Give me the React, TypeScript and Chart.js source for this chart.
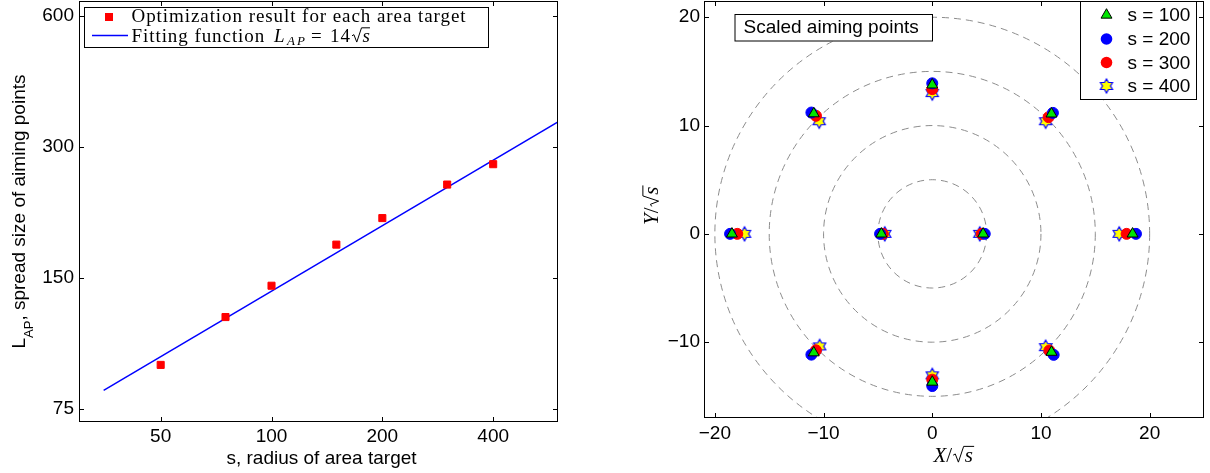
import React, { useEffect, useRef } from 'react';
import { Chart, registerables } from 'chart.js';

Chart.register(...registerables);

const SANS = "'Liberation Sans', Arial, Helvetica, sans-serif";
const SERIF = "'Liberation Serif', 'Times New Roman', Times, serif";

// ---- Left panel data ----
const areaRadius = [50, 75, 100, 150, 200, 300, 400];
const spreadSize = [94.7, 122, 144, 179, 206, 246, 274];
const fitRadius = [35, 600];
const fitSpread = [82.8, 342.9];
const leftXTicks = [50, 100, 200, 400];
const leftYTicks = [75, 150, 300, 600];

// ---- Right panel data ----
const s100X = [-18.43, -4.68, 4.68, 18.43, 0, 0, -10.9, 10.97, -10.9, 10.97];
const s100Y = [0, 0, 0, 0, 13.76, -13.68, 11.1, 11.08, -10.97, -10.92];
const s200X = [-18.6, -4.8, 4.83, 18.74, 0, 0, -11.12, 11.1, -11.12, 11.17];
const s200Y = [0, 0, 0, 0, 13.9, -14.05, 11.2, 11.17, -11.15, -11.17];
const s300X = [-17.94, -4.55, 4.55, 17.88, 0, 0, -10.7, 10.7, -10.7, 10.77];
const s300Y = [0, 0, 0, 0, 13.36, -13.46, 10.9, 10.77, -10.75, -10.77];
const s400X = [-17.27, -4.37, 4.37, 17.2, 0, 0, -10.4, 10.43, -10.36, 10.43];
const s400Y = [0, 0, 0, 0, 13.0, -13.06, 10.4, 10.4, -10.39, -10.46];
const guideRadii = [5, 10, 15, 20];
const rightXTicks = [-20, -10, 0, 10, 20];
const rightYTicks = [-10, 0, 10, 20];
const seriesLabels = ['s = 100', 's = 200', 's = 300', 's = 400'];

const zip = (xs: number[], ys: number[]) => xs.map((x, i) => ({ x, y: ys[i] }));
const minusFmt = (v: number) => (v < 0 ? '\u2212' + Math.abs(v) : String(v));

function makeHexagram(R: number) {
  const size = Math.ceil(2 * R + 4);
  const c = document.createElement('canvas');
  c.width = size;
  c.height = size;
  const g = c.getContext('2d')!;
  const cx = size / 2, cy = size / 2, r = R / Math.sqrt(3);
  g.beginPath();
  for (let i = 0; i < 12; i++) {
    const ang = -Math.PI / 2 + (i * Math.PI) / 6;
    const rad = i % 2 === 0 ? R : r;
    const x = cx + rad * Math.cos(ang), y = cy + rad * Math.sin(ang);
    if (i) g.lineTo(x, y); else g.moveTo(x, y);
  }
  g.closePath();
  g.fillStyle = '#ffff00';
  g.fill();
  g.strokeStyle = '#0000ff';
  g.lineWidth = 1.2;
  g.stroke();
  return c;
}

function drawFrame(chart: any, tickLen: number) {
  const { ctx, chartArea: a, scales } = chart;
  ctx.save();
  ctx.strokeStyle = '#000';
  ctx.lineWidth = 1;
  ctx.strokeRect(a.left + 0.5, a.top + 0.5, a.right - a.left - 1, a.bottom - a.top - 1);
  ctx.beginPath();
  for (const t of scales.x.ticks) {
    const p = Math.round(scales.x.getPixelForValue(t.value)) + 0.5;
    ctx.moveTo(p, a.bottom);
    ctx.lineTo(p, a.bottom - tickLen);
    ctx.moveTo(p, a.top);
    ctx.lineTo(p, a.top + tickLen);
  }
  for (const t of scales.y.ticks) {
    const p = Math.round(scales.y.getPixelForValue(t.value)) + 0.5;
    ctx.moveTo(a.left, p);
    ctx.lineTo(a.left + tickLen, p);
    ctx.moveTo(a.right, p);
    ctx.lineTo(a.right - tickLen, p);
  }
  ctx.stroke();
  ctx.restore();
}

function drawRadical(ctx: CanvasRenderingContext2D, x: number, baseline: number, f: number, contentW: number) {
  ctx.save();
  ctx.strokeStyle = '#000';
  ctx.lineWidth = 1;
  ctx.beginPath();
  ctx.moveTo(x, baseline - 0.3 * f);
  ctx.lineTo(x + 0.1 * f, baseline - 0.36 * f);
  ctx.lineTo(x + 0.25 * f, baseline + 0.03 * f);
  ctx.lineTo(x + 0.5 * f, baseline - 0.72 * f);
  ctx.lineTo(x + 0.55 * f + contentW + 0.06 * f, baseline - 0.72 * f);
  ctx.stroke();
  ctx.restore();
}

// draws "<left>/√s" with <left> italic; returns total width
function sqrtFraction(ctx: CanvasRenderingContext2D, left: string, x: number, baseline: number, f: number, draw: boolean) {
  ctx.font = `italic ${f}px ${SERIF}`;
  const wL = ctx.measureText(left).width;
  ctx.font = `${f}px ${SERIF}`;
  const wSlash = ctx.measureText('/').width;
  ctx.font = `italic ${f}px ${SERIF}`;
  const wS = ctx.measureText('s').width;
  const radW = 0.55 * f;
  const total = wL + wSlash + 0.05 * f + radW + wS + 0.08 * f;
  if (!draw) return total;
  let cx = x;
  ctx.font = `italic ${f}px ${SERIF}`;
  ctx.fillText(left, cx, baseline);
  cx += wL;
  ctx.font = `${f}px ${SERIF}`;
  ctx.fillText('/', cx, baseline);
  cx += wSlash + 0.05 * f;
  drawRadical(ctx, cx, baseline, f, wS);
  ctx.font = `italic ${f}px ${SERIF}`;
  ctx.fillText('s', cx + radW, baseline);
  return total;
}

const leftPlugin = {
  id: 'leftDecor',
  afterDraw(chart: any) {
    drawFrame(chart, 5);
    const { ctx, chartArea: a } = chart;
    ctx.save();
    ctx.fillStyle = '#000';
    // x title
    ctx.font = `19px ${SANS}`;
    ctx.textAlign = 'center';
    ctx.textBaseline = 'alphabetic';
    ctx.fillText('s, radius of area target', (a.left + a.right) / 2 + 3, 464);
    // y title with subscript
    ctx.save();
    ctx.translate(25, (a.top + a.bottom) / 2);
    ctx.rotate(-Math.PI / 2);
    ctx.textAlign = 'left';
    ctx.font = `19px ${SANS}`;
    const wL = ctx.measureText('L').width;
    const rest = ', spread size of aiming points';
    const wR = ctx.measureText(rest).width;
    ctx.font = `13px ${SANS}`;
    const wSub = ctx.measureText('AP').width;
    let x = -(wL + wSub + wR) / 2;
    ctx.font = `19px ${SANS}`;
    ctx.fillText('L', x, 0);
    x += wL;
    ctx.font = `13px ${SANS}`;
    ctx.fillText('AP', x, 8);
    x += wSub;
    ctx.font = `19px ${SANS}`;
    ctx.fillText(rest, x, 0);
    ctx.restore();

    // legend box
    const bx = 84, by = 7, bw = 405, bh = 41;
    ctx.fillStyle = '#fff';
    ctx.fillRect(bx, by, bw, bh);
    ctx.strokeStyle = '#000';
    ctx.lineWidth = 1;
    ctx.strokeRect(bx + 0.5, by + 0.5, bw - 1, bh - 1);
    ctx.fillStyle = '#ff0000';
    ctx.fillRect(105, 13, 8, 8);
    ctx.strokeStyle = '#0000ff';
    ctx.lineWidth = 1.5;
    ctx.beginPath();
    ctx.moveTo(92, 35.5);
    ctx.lineTo(128, 35.5);
    ctx.stroke();
    // text
    ctx.fillStyle = '#000';
    ctx.textAlign = 'left';
    const line1 = 'Optimization result for each area target';
    ctx.font = `19px ${SERIF}`;
    const w0 = ctx.measureText(line1).width;
    const ls = Math.max(0, (335 - w0) / line1.length);
    (ctx as any).letterSpacing = ls + 'px';
    ctx.fillText(line1, 131.5, 22);
    ctx.fillText('Fitting function', 131.5, 41.5);
    (ctx as any).letterSpacing = '0px';
    // formula L_AP = 14 sqrt(s)
    ctx.font = `italic 19px ${SERIF}`;
    ctx.fillText('L', 274, 41.5);
    ctx.font = `italic 13px ${SERIF}`;
    (ctx as any).letterSpacing = '2px';
    ctx.fillText('AP', 287, 45);
    (ctx as any).letterSpacing = '0px';
    ctx.font = `19px ${SERIF}`;
    ctx.fillText('=', 311, 41.5);
    (ctx as any).letterSpacing = '1px';
    ctx.fillText('14', 330, 41.5);
    (ctx as any).letterSpacing = '0px';
    ctx.font = `italic 19px ${SERIF}`;
    const wS = ctx.measureText('s').width;
    drawRadical(ctx, 352, 41.5, 19, wS - 1);
    ctx.fillText('s', 352 + 0.55 * 19, 41.5);
    ctx.restore();
  },
};

const rightPlugin = {
  id: 'rightDecor',
  beforeDatasetsDraw(chart: any) {
    const { ctx, chartArea: a, scales } = chart;
    const x0 = scales.x.getPixelForValue(0), y0 = scales.y.getPixelForValue(0);
    ctx.save();
    ctx.beginPath();
    ctx.rect(a.left, a.top, a.right - a.left, a.bottom - a.top);
    ctx.clip();
    ctx.strokeStyle = '#8c8c8c';
    ctx.lineWidth = 1;
    ctx.setLineDash([7, 5]);
    for (const r of guideRadii) {
      const rx = Math.abs(scales.x.getPixelForValue(r) - x0);
      const ry = Math.abs(y0 - scales.y.getPixelForValue(r));
      ctx.beginPath();
      ctx.ellipse(x0, y0, rx, ry, 0, 0, Math.PI * 2);
      ctx.stroke();
    }
    ctx.restore();
  },
  afterDraw(chart: any) {
    drawFrame(chart, 5);
    const { ctx, chartArea: a } = chart;
    const hex = (chart as any)._hex;
    ctx.save();
    ctx.fillStyle = '#000';
    ctx.textBaseline = 'alphabetic';
    const f = 21;
    const w = sqrtFraction(ctx, 'X', 0, 0, f, false) as number;
    sqrtFraction(ctx, 'X', (a.left + a.right) / 2 - w / 2, 461.5, f, true);
    ctx.save();
    ctx.translate(38, 205);
    ctx.rotate(-Math.PI / 2);
    const wy = sqrtFraction(ctx, 'Y', 0, 0, f, false) as number;
    sqrtFraction(ctx, 'Y', -wy / 2, 0, f, true);
    ctx.restore();

    // annotation box
    ctx.fillStyle = '#fff';
    ctx.fillRect(114.5, 14, 198.5, 27.5);
    ctx.strokeStyle = '#000';
    ctx.lineWidth = 1;
    ctx.strokeRect(115, 14.5, 197.5, 26.5);
    ctx.fillStyle = '#000';
    ctx.font = `19px ${SANS}`;
    ctx.textAlign = 'left';
    ctx.textBaseline = 'middle';
    ctx.fillText('Scaled aiming points', 123.5, 28);

    // legend box
    const lx = 460, ly = 1, lw = 117, lh = 99;
    ctx.fillStyle = '#fff';
    ctx.fillRect(lx, ly, lw, lh);
    ctx.strokeRect(lx + 0.5, ly + 0.5, lw - 1, lh - 1);
    const rows = [15, 39, 62.5, 86];
    const mx = 486.5;
    const tr = 6.3, ty = rows[0];
    ctx.beginPath();
    ctx.moveTo(mx, ty - tr);
    ctx.lineTo(mx + 0.866 * tr, ty + 0.5 * tr);
    ctx.lineTo(mx - 0.866 * tr, ty + 0.5 * tr);
    ctx.closePath();
    ctx.fillStyle = '#00e600';
    ctx.fill();
    ctx.strokeStyle = '#000';
    ctx.stroke();
    ctx.fillStyle = '#0000ff';
    ctx.beginPath();
    ctx.arc(mx, rows[1], 5.8, 0, Math.PI * 2);
    ctx.fill();
    ctx.fillStyle = '#ff0000';
    ctx.beginPath();
    ctx.arc(mx, rows[2], 5.8, 0, Math.PI * 2);
    ctx.fill();
    if (hex) ctx.drawImage(hex, mx - hex.width / 2, rows[3] - hex.height / 2);
    ctx.fillStyle = '#000';
    ctx.font = `19px ${SANS}`;
    ctx.textBaseline = 'middle';
    seriesLabels.forEach((lab, i) => ctx.fillText(lab, 507.5, rows[i] + 1));
    ctx.restore();
  },
};

const tickFont = { family: SANS, size: 19 };

export default function App() {
  const leftRef = useRef<HTMLCanvasElement>(null);
  const rightRef = useRef<HTMLCanvasElement>(null);

  useEffect(() => {
    const left = new Chart(leftRef.current!, {
      type: 'scatter',
      data: {
        datasets: [
          {
            label: 'Optimization result for each area target',
            data: zip(areaRadius, spreadSize),
            pointStyle: 'rect',
            pointRadius: 5,
            backgroundColor: '#ff0000',
            borderColor: '#ff0000',
            borderWidth: 1,
            showLine: false,
          },
          {
            label: 'Fitting function',
            data: zip(fitRadius, fitSpread),
            showLine: true,
            borderColor: '#0000ff',
            borderWidth: 1.5,
            pointRadius: 0,
            fill: false,
          },
        ],
      },
      options: {
        responsive: false,
        animation: false,
        events: [],
        layout: { autoPadding: false, padding: { top: 1, right: 42, bottom: 0, left: 0 } },
        plugins: { legend: { display: false }, tooltip: { enabled: false } },
        scales: {
          x: {
            type: 'logarithmic',
            min: 30,
            max: 600,
            grid: { display: false, drawTicks: false },
            border: { display: false },
            ticks: { font: tickFont, color: '#000', padding: 3, autoSkip: false, maxRotation: 0, callback: (v: any) => String(v) },
            afterBuildTicks: (s: any) => { s.ticks = leftXTicks.map((v) => ({ value: v })); },
            afterFit: (s: any) => { s.height = 51; s.paddingLeft = 0; s.paddingRight = 0; },
          },
          y: {
            type: 'logarithmic',
            min: 70,
            max: 650,
            grid: { display: false, drawTicks: false },
            border: { display: false },
            ticks: { font: tickFont, color: '#000', padding: 5, autoSkip: false, callback: (v: any) => String(v) },
            afterBuildTicks: (s: any) => { s.ticks = leftYTicks.map((v) => ({ value: v })); },
            afterFit: (s: any) => { s.width = 79; s.paddingTop = 0; s.paddingBottom = 0; },
          },
        },
      } as any,
      plugins: [leftPlugin],
    });

    const hex = makeHexagram(7);
    const right = new Chart(rightRef.current!, {
      type: 'scatter',
      data: {
        datasets: [
          { label: seriesLabels[0], data: zip(s100X, s100Y), pointStyle: 'triangle', pointRadius: 6.3, backgroundColor: '#00e600', borderColor: '#000000', borderWidth: 1 },
          { label: seriesLabels[1], data: zip(s200X, s200Y), pointStyle: 'circle', pointRadius: 5.5, backgroundColor: '#0000ff', borderColor: '#0000ff', borderWidth: 1 },
          { label: seriesLabels[2], data: zip(s300X, s300Y), pointStyle: 'circle', pointRadius: 5.5, backgroundColor: '#ff0000', borderColor: '#ff0000', borderWidth: 1 },
          { label: seriesLabels[3], data: zip(s400X, s400Y), pointStyle: hex, pointRadius: 7, backgroundColor: '#ffff00', borderColor: '#0000ff', borderWidth: 1 },
        ],
      },
      options: {
        responsive: false,
        animation: false,
        events: [],
        layout: { autoPadding: false, padding: { top: 1, right: 6, bottom: 0, left: 0 } },
        plugins: { legend: { display: false }, tooltip: { enabled: false } },
        scales: {
          x: {
            type: 'linear',
            min: -21,
            max: 25,
            grid: { display: false, drawTicks: false },
            border: { display: false },
            ticks: { font: tickFont, color: '#000', padding: 4, autoSkip: false, maxRotation: 0, callback: (v: any) => minusFmt(Number(v)) },
            afterBuildTicks: (s: any) => { s.ticks = rightXTicks.map((v) => ({ value: v })); },
            afterFit: (s: any) => { s.height = 55; s.paddingLeft = 0; s.paddingRight = 0; },
          },
          y: {
            type: 'linear',
            min: -17,
            max: 21.5,
            grid: { display: false, drawTicks: false },
            border: { display: false },
            ticks: { font: tickFont, color: '#000', padding: 4, autoSkip: false, callback: (v: any) => minusFmt(Number(v)) },
            afterBuildTicks: (s: any) => { s.ticks = rightYTicks.map((v) => ({ value: v })); },
            afterFit: (s: any) => { s.width = 84; s.paddingTop = 0; s.paddingBottom = 0; },
          },
        },
      } as any,
      plugins: [rightPlugin],
    });
    (right as any)._hex = hex;
    right.draw();

    return () => {
      left.destroy();
      right.destroy();
    };
  }, []);

  return (
    <div style={{ position: 'absolute', left: 0, top: 0, width: 1210, height: 473, background: '#fff' }}>
      <canvas ref={leftRef} width={600} height={473} style={{ position: 'absolute', left: 0, top: 0, width: 600, height: 473 }} />
      <canvas ref={rightRef} width={590} height={473} style={{ position: 'absolute', left: 620, top: 0, width: 590, height: 473 }} />
    </div>
  );
}
